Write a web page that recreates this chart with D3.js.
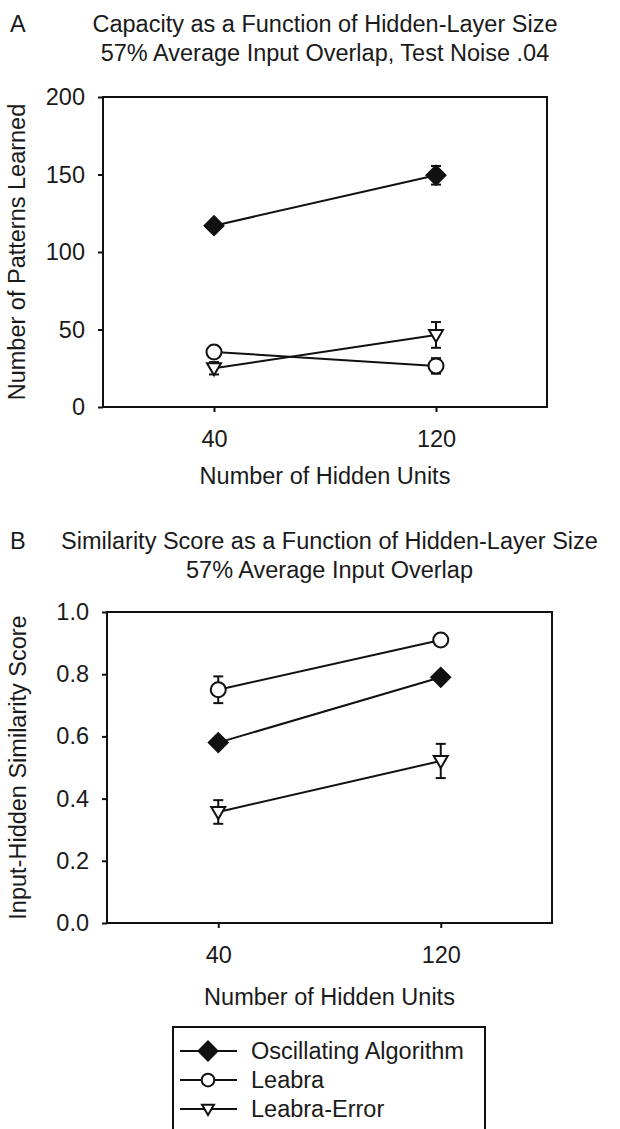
<!DOCTYPE html>
<html>
<head>
<meta charset="UTF-8">
<title>Capacity and Similarity vs Hidden-Layer Size</title>
<script src="https://d3js.org/d3.v7.min.js"></script>
<style>
    body { margin: 0; background: #fff; }
    text { font-family: "Liberation Sans", Arial, sans-serif; fill: #1a1a1a; }
</style>
</head>
<body>
<div id="chart"></div>
<script>
    // data
    var hiddenUnits = [40, 120];
    var seriesNames = ["Oscillating Algorithm", "Leabra", "Leabra-Error"];

    // panel A: number of patterns learned
    var capOsc = [117, 149.5],   capOscErr = [2, 6];
    var capLeabra = [35.5, 26.5], capLeabraErr = [1.5, 5];
    var capLE = [25, 46.5],      capLEErr = [4, 8.3];
    var capTicks = [0, 50, 100, 150, 200];

    // panel B: input-hidden similarity score
    var simOsc = [0.58, 0.79],    simOscErr = [0.01, 0.01];
    var simLeabra = [0.75, 0.91], simLeabraErr = [0.043, 0.01];
    var simLE = [0.357, 0.521],   simLEErr = [0.038, 0.055];
    var simTicks = [0, 0.2, 0.4, 0.6, 0.8, 1.0];

    var W = 620, H = 1129, FS = 23.5;

    var svg = d3.select("#chart").append("svg")
        .attr("width", W)
        .attr("height", H);

    // marker shapes
    var diamond = d3.symbol().type(d3.symbolSquare).size(180);
    function markerPath(kind, k) {
        k = k || 1;
        if (kind === 0) return diamond();
        if (kind === 1) return d3.symbol().type(d3.symbolCircle).size(Math.PI * 7.5 * 7.5 * k * k)();
        var hw = 7 * k, t = 5 * k, b = 7 * k;
        return "M" + (-hw) + "," + (-t) + "L" + hw + "," + (-t) + "L0," + b + "Z";
    }
    function drawMarker(g, kind, x, y, k) {
        var m = g.append("path")
            .attr("d", markerPath(kind, k))
            .attr("stroke", "#111")
            .attr("stroke-width", 2)
            .attr("fill", kind === 0 ? "#111" : "#fff");
        if (kind === 0) m.attr("transform", "translate(" + x + "," + y + ") rotate(45)");
        else m.attr("transform", "translate(" + x + "," + y + ")");
    }

    function drawPanel(cfg) {
        var x = d3.scaleLinear().domain([0, 160]).range([cfg.left, cfg.right]);
        var y = d3.scaleLinear().domain(cfg.yDomain).range([cfg.bottom, cfg.top]);
        var g = svg.append("g");

        // panel letter + title
        g.append("text").attr("x", cfg.letterX).attr("y", cfg.titleY)
            .style("font-size", FS + "px").text(cfg.letter);
        cfg.title.forEach(function(t, i) {
            g.append("text")
                .attr("x", (cfg.left + cfg.right) / 2)
                .attr("y", cfg.titleY + i * 29)
                .attr("text-anchor", "middle")
                .style("font-size", FS + "px")
                .text(t);
        });

        // axes
        var ya = g.append("g")
            .attr("transform", "translate(" + cfg.left + ",0)")
            .call(d3.axisLeft(y).tickValues(cfg.ticks).tickSize(5).tickPadding(13).tickFormat(cfg.fmt));
        var xa = g.append("g")
            .attr("transform", "translate(0," + cfg.bottom + ")")
            .call(d3.axisBottom(x).tickValues(hiddenUnits).tickSize(5).tickPadding(18));
        [ya, xa].forEach(function(a) {
            a.select(".domain").remove();
            a.selectAll("line").attr("stroke", "#111").attr("stroke-width", 2);
            a.selectAll("text").style("font-size", FS + "px").attr("fill", "#1a1a1a")
                .style("font-family", "'Liberation Sans', Arial, sans-serif");
        });

        // frame
        g.append("rect")
            .attr("x", cfg.left).attr("y", cfg.top)
            .attr("width", cfg.right - cfg.left).attr("height", cfg.bottom - cfg.top)
            .attr("fill", "none").attr("stroke", "#111").attr("stroke-width", 2);

        // axis titles
        g.append("text")
            .attr("x", (cfg.left + cfg.right) / 2)
            .attr("y", cfg.xLabelY)
            .attr("text-anchor", "middle")
            .style("font-size", FS + "px")
            .text("Number of Hidden Units");
        g.append("text")
            .attr("transform", "translate(" + cfg.yLabelX + "," + (cfg.top + cfg.bottom) / 2 + ") rotate(-90)")
            .attr("text-anchor", "middle")
            .style("font-size", FS + "px")
            .text(cfg.yLabel);

        var line = d3.line().x(function(d, i) { return x(hiddenUnits[i]); }).y(function(d) { return y(d); });

        cfg.series.forEach(function(s, si) {
            g.append("path").datum(s.vals)
                .attr("d", line)
                .attr("fill", "none").attr("stroke", "#111").attr("stroke-width", 2);
            s.vals.forEach(function(v, i) {
                var cx = x(hiddenUnits[i]), e = s.err[i];
                var y0 = y(v - e), y1 = y(v + e);
                g.append("line").attr("x1", cx).attr("x2", cx).attr("y1", y0).attr("y2", y1)
                    .attr("stroke", "#111").attr("stroke-width", 2);
                [y0, y1].forEach(function(yy) {
                    g.append("line").attr("x1", cx - 5).attr("x2", cx + 5).attr("y1", yy).attr("y2", yy)
                        .attr("stroke", "#111").attr("stroke-width", 2);
                });
            });
        });
        cfg.series.forEach(function(s, si) {
            s.vals.forEach(function(v, i) {
                drawMarker(g, si, x(hiddenUnits[i]), y(v));
            });
        });
    }

    drawPanel({
        letter: "A", letterX: 10, titleY: 32,
        title: ["Capacity as a Function of Hidden-Layer Size", "57% Average Input Overlap, Test Noise .04"],
        left: 103, right: 547, top: 97, bottom: 407,
        yDomain: [0, 200], ticks: capTicks, fmt: d3.format("d"),
        xLabelY: 484, yLabelX: 25,
        yLabel: "Number of Patterns Learned",
        series: [
            {vals: capOsc, err: capOscErr},
            {vals: capLeabra, err: capLeabraErr},
            {vals: capLE, err: capLEErr}
        ]
    });

    drawPanel({
        letter: "B", letterX: 10, titleY: 549,
        title: ["Similarity Score as a Function of Hidden-Layer Size", "57% Average Input Overlap"],
        left: 107, right: 552, top: 612, bottom: 923,
        yDomain: [0, 1], ticks: simTicks, fmt: d3.format(".1f"),
        xLabelY: 1005, yLabelX: 26,
        yLabel: "Input-Hidden Similarity Score",
        series: [
            {vals: simOsc, err: simOscErr},
            {vals: simLeabra, err: simLeabraErr},
            {vals: simLE, err: simLEErr}
        ]
    });

    // legend
    var legendRows = [1051, 1080, 1109];
    var lg = svg.append("g");
    lg.append("rect")
        .attr("x", 173).attr("y", 1027)
        .attr("width", 312).attr("height", 130)
        .attr("fill", "#fff").attr("stroke", "#111").attr("stroke-width", 2);
    seriesNames.forEach(function(name, i) {
        var yy = legendRows[i];
        lg.append("line").attr("x1", 180).attr("x2", 237).attr("y1", yy).attr("y2", yy)
            .attr("stroke", "#111").attr("stroke-width", 2);
        drawMarker(lg, i, 208, yy, i === 0 ? 1 : 0.85);
        lg.append("text").attr("x", 251).attr("y", yy + 8)
            .style("font-size", FS + "px").text(name);
    });
</script>
</body>
</html>
